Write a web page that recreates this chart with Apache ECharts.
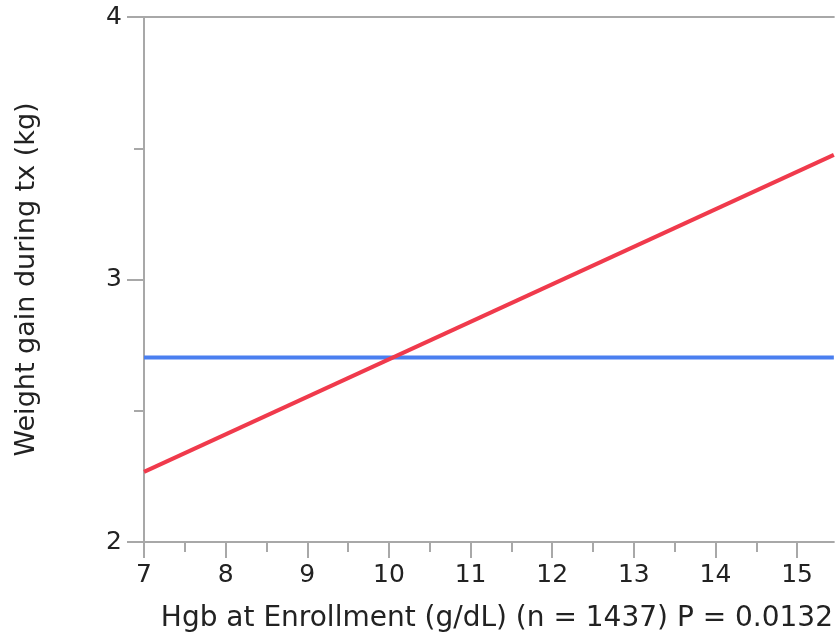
<!DOCTYPE html>
<html>
<head>
<meta charset="utf-8">
<script src="https://cdn.jsdelivr.net/npm/echarts@6/dist/echarts.min.js"></script>
<style>html,body{margin:0;padding:0;background:#fff}#c{width:836px;height:641px}</style>
</head>
<body>
<div id="c"></div>
<script>
// Data
const xFit = [7, 15.45];
const yFitRed = [2.267, 3.475];     // linear fit
const yMeanBlue = [2.703, 2.703];  // overall mean
const xTicks = [7, 8, 9, 10, 11, 12, 13, 14, 15];
const yTicks = [2, 3, 4];
const xTitle = 'Hgb at Enrollment (g/dL) (n = 1437) P = 0.0132';
const yTitle = 'Weight gain during tx (kg)';

const font = '"DejaVu Sans", "Noto Sans", sans-serif';
const axisGray = '#a8a8a8';
const chart = echarts.init(document.getElementById('c'), null, {renderer: 'canvas'});
chart.setOption({
  animation: false,
  grid: {left: 144, top: 17, right: 0, bottom: 99, containLabel: false},
  xAxis: [{
    type: 'value', min: xTicks[0], max: xFit[1], interval: 1,
    position: 'bottom',
    name: xTitle, nameLocation: 'middle', nameGap: 63,
    nameTextStyle: {fontFamily: font, fontSize: 28, color: '#222', padding: [0, 0, 0, 16]},
    axisLine: {show: true, lineStyle: {color: axisGray, width: 2}},
    axisTick: {show: true, inside: false, length: 16, customValues: xTicks, lineStyle: {color: axisGray, width: 2}},
    minorTick: {show: true, splitNumber: 2, length: 10, lineStyle: {color: axisGray, width: 2}},
    axisLabel: {fontFamily: font, fontSize: 25, color: '#222', margin: 21, customValues: xTicks},
    splitLine: {show: false}
  }, {
    type: 'value', min: xTicks[0], max: xFit[1], position: 'top',
    axisLine: {show: true, lineStyle: {color: axisGray, width: 2}},
    axisTick: {show: false}, axisLabel: {show: false}, splitLine: {show: false}
  }],
  yAxis: {
    type: 'value', min: yTicks[0], max: yTicks[yTicks.length - 1], interval: 1,
    name: yTitle, nameLocation: 'middle', nameGap: 104, nameRotate: 90,
    nameTextStyle: {fontFamily: font, fontSize: 27, color: '#222'},
    axisLine: {show: true, lineStyle: {color: axisGray, width: 2}},
    axisTick: {show: true, length: 17, lineStyle: {color: axisGray, width: 2}},
    minorTick: {show: true, splitNumber: 2, length: 10, lineStyle: {color: axisGray, width: 2}},
    axisLabel: {fontFamily: font, fontSize: 25, color: '#222', margin: 22},
    splitLine: {show: false}
  },
  series: [{
    type: 'line', symbol: 'none', silent: true,
    data: xFit.map((x, i) => [x, yMeanBlue[i]]),
    lineStyle: {color: '#4a7ff0', width: 4}
  }, {
    type: 'line', symbol: 'none', silent: true,
    data: xFit.map((x, i) => [x, yFitRed[i]]),
    lineStyle: {color: '#f03a4c', width: 4}
  }]
});
</script>
</body>
</html>
